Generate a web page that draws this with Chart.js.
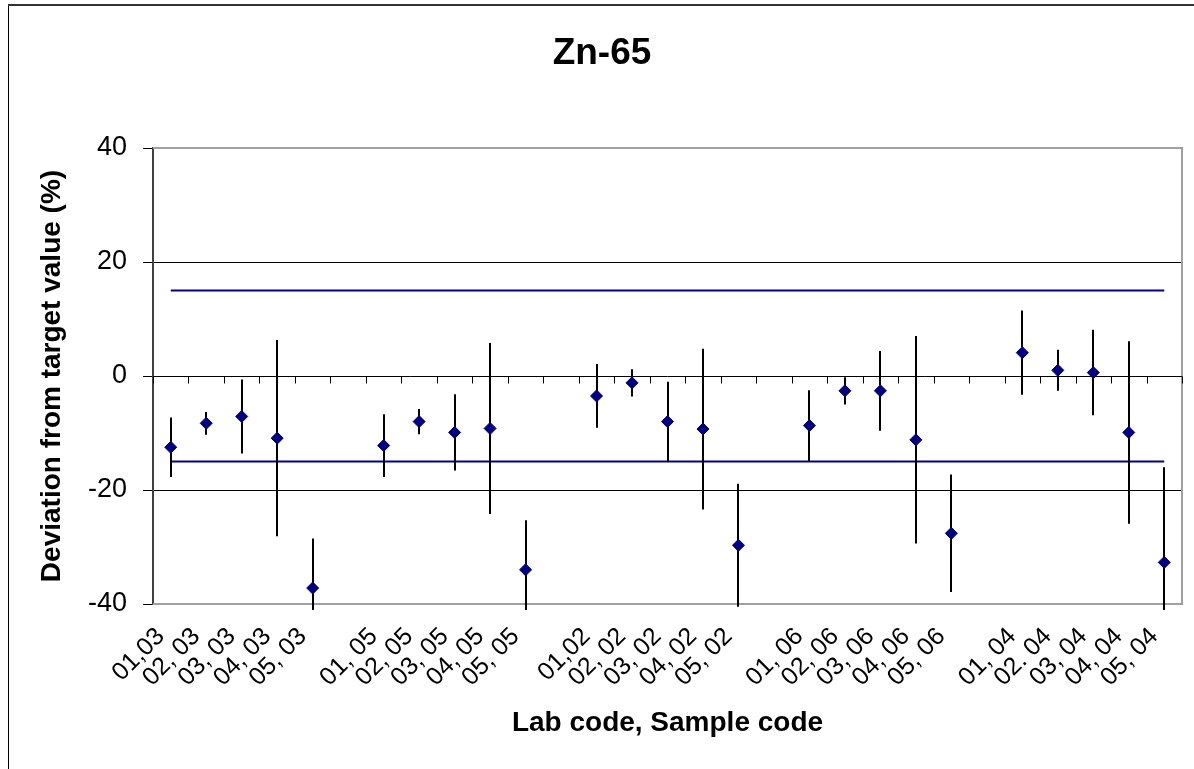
<!DOCTYPE html>
<html>
<head>
<meta charset="utf-8">
<title>Zn-65</title>
<script src="https://cdn.jsdelivr.net/npm/chart.js@4.4.0/dist/chart.umd.min.js"></script>
<style>
  html, body { margin: 0; padding: 0; background: #fff; }
  #wrap { width: 1194px; height: 769px; }
</style>
</head>
<body>
<div id="wrap"><canvas id="zn65" width="1194" height="769"></canvas></div>
<script>
// lab code, sample code (empty entries are the gaps between samples)
const categories = [
  '01,03', '02, 03', '03, 03', '04, 03', '05, 03', '',
  '01, 05', '02, 05', '03, 05', '04, 05', '05, 05', '',
  '01,02', '02, 02', '03, 02', '04, 02', '05, 02', '',
  '01, 06', '02, 06', '03, 06', '04, 06', '05, 06', '',
  '01, 04', '02. 04', '03, 04', '04, 04', '05, 04'
];

// deviation from target value (%)
const deviation = [
  -12.5, -8.3, -7.1, -10.9, -37.2, null,
  -12.2, -8.0, -9.9, -9.2, -34.0, null,
  -3.5, -1.2, -8.0, -9.3, -29.7, null,
  -8.7, -2.6, -2.6, -11.2, -27.6, null,
  4.1, 1.0, 0.6, -9.9, -32.7
];

// uncertainty (half length of the error bar, %)
const uncertainty = [
  5.2, 2.0, 6.5, 17.2, 8.7, null,
  5.5, 2.2, 6.7, 15.0, 8.7, null,
  5.6, 2.4, 7.0, 14.1, 10.8, null,
  6.2, 2.4, 7.0, 18.2, 10.3, null,
  7.4, 3.6, 7.5, 16.0, 16.7
];

// acceptance limits
const upperLimit = [15, 15, 15, 15, 15, 15, 15, 15, 15, 15, 15, 15, 15, 15, 15,
  15, 15, 15, 15, 15, 15, 15, 15, 15, 15, 15, 15, 15, 15];
const lowerLimit = [-15, -15, -15, -15, -15, -15, -15, -15, -15, -15, -15, -15, -15, -15, -15,
  -15, -15, -15, -15, -15, -15, -15, -15, -15, -15, -15, -15, -15, -15];

const yTicks = [-40, -20, 0, 20, 40];

// frame, plot border, zero line with category ticks, error bars
const excelLook = {
  id: 'excelLook',
  beforeDraw(chart) {
    const ctx = chart.ctx;
    ctx.save();
    ctx.fillStyle = '#fff';
    ctx.fillRect(0, 0, chart.width, chart.height);
    ctx.strokeStyle = '#000';
    ctx.lineWidth = 1;
    ctx.beginPath();
    ctx.moveTo(8.5, chart.height);
    ctx.lineTo(8.5, 5);
    ctx.stroke();
    ctx.strokeStyle = '#333';
    ctx.lineWidth = 2;
    ctx.beginPath();
    ctx.moveTo(8, 5);
    ctx.lineTo(chart.width, 5);
    ctx.stroke();
    ctx.restore();
  },
  beforeDatasetsDraw(chart) {
    const ctx = chart.ctx;
    const a = chart.chartArea;
    const x = chart.scales.x;
    const y = chart.scales.y;
    ctx.save();
    // gray border top / right / bottom
    ctx.strokeStyle = '#a0a0a0';
    ctx.lineWidth = 2;
    ctx.beginPath();
    ctx.moveTo(a.left, a.top);
    ctx.lineTo(a.right, a.top);
    ctx.lineTo(a.right, a.bottom);
    ctx.lineTo(a.left, a.bottom);
    ctx.stroke();
    // zero line
    const y0 = Math.round(y.getPixelForValue(0)) + 0.5;
    ctx.strokeStyle = '#000';
    ctx.lineWidth = 1;
    ctx.beginPath();
    ctx.moveTo(a.left, y0);
    ctx.lineTo(a.right, y0);
    // tick marks between categories
    const half = (x.getPixelForValue(1) - x.getPixelForValue(0)) / 2;
    for (let i = 0; i <= categories.length; i++) {
      const px = Math.round(x.getPixelForValue(i) - half) + 0.5;
      ctx.moveTo(px, y0);
      ctx.lineTo(px, y0 + 7);
    }
    ctx.stroke();
    ctx.restore();
  },
  beforeDatasetDraw(chart, args) {
    if (args.index !== 0) return;
    const ctx = chart.ctx;
    const a = chart.chartArea;
    const x = chart.scales.x;
    const y = chart.scales.y;
    ctx.save();
    ctx.beginPath();
    ctx.rect(a.left, a.top - 2, a.right - a.left, a.bottom - a.top + 8);
    ctx.clip();
    ctx.strokeStyle = '#000';
    ctx.lineWidth = 2;
    ctx.beginPath();
    deviation.forEach((v, i) => {
      if (v === null) return;
      const px = Math.round(x.getPixelForValue(i));
      ctx.moveTo(px, y.getPixelForValue(v + uncertainty[i]));
      ctx.lineTo(px, y.getPixelForValue(v - uncertainty[i]));
    });
    ctx.stroke();
    ctx.restore();
  }
};

const font = 'Liberation Sans, Arial, sans-serif';

new Chart(document.getElementById('zn65'), {
  type: 'line',
  data: {
    labels: categories,
    datasets: [
      {
        label: 'Deviation',
        data: deviation,
        showLine: false,
        pointStyle: 'rectRot',
        pointRadius: 6,
        borderWidth: 1,
        backgroundColor: '#000080',
        borderColor: '#000080'
      },
      {
        label: 'Upper limit',
        data: upperLimit,
        borderColor: '#00008b',
        borderWidth: 2,
        pointRadius: 0,
        fill: false
      },
      {
        label: 'Lower limit',
        data: lowerLimit,
        borderColor: '#00008b',
        borderWidth: 2,
        pointRadius: 0,
        fill: false
      }
    ]
  },
  options: {
    responsive: false,
    animation: false,
    devicePixelRatio: 1,
    layout: { padding: { left: 22, right: 12, top: 0, bottom: 0 } },
    plugins: {
      legend: { display: false },
      tooltip: { enabled: false },
      title: {
        display: true,
        text: 'Zn-65',
        color: '#000',
        font: { family: font, size: 37, weight: 'bold' },
        padding: { top: 31.7, bottom: 71.9 }
      }
    },
    scales: {
      x: {
        offset: true,
        grid: { display: false },
        border: { display: false },
        ticks: {
          autoSkip: false,
          minRotation: 45,
          maxRotation: 45,
          padding: 10,
          labelOffset: -10,
          color: '#000',
          font: { family: font, size: 25 }
        },
        title: {
          display: true,
          text: 'Lab code, Sample code',
          color: '#000',
          font: { family: font, size: 28, weight: 'bold' },
          padding: { top: 0, bottom: 28.6 }
        },
        afterFit(scale) {
          scale.height = 165;
          scale.paddingLeft = 0;
          scale.paddingRight = 0;
        }
      },
      y: {
        min: -40,
        max: 40,
        afterBuildTicks(scale) { scale.ticks = yTicks.map(v => ({ value: v })); },
        grid: {
          color: c => (c.tick && (c.tick.value === 20 || c.tick.value === -20)) ? '#000' : 'rgba(0,0,0,0)',
          tickColor: '#000',
          tickLength: 10,
          lineWidth: 1
        },
        border: { color: '#404040', width: 2 },
        ticks: {
          padding: 16,
          color: '#000',
          font: { family: font, size: 27 }
        },
        title: {
          display: true,
          text: 'Deviation from target value (%)',
          color: '#000',
          font: { family: font, size: 28, weight: 'bold' },
          padding: { top: 13.2, bottom: 0 }
        },
        afterFit(scale) { scale.width = 131; }
      }
    }
  },
  plugins: [excelLook]
});
</script>
</body>
</html>
